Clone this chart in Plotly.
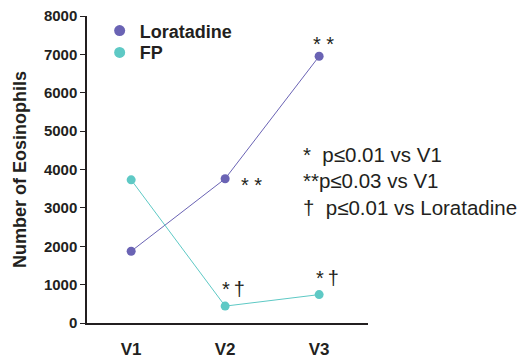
import plotly.graph_objects as go

visits = ["V1", "V2", "V3"]
loratadine = [1870, 3760, 6950]
fp = [3730, 440, 740]
y_ticks = [0, 1000, 2000, 3000, 4000, 5000, 6000, 7000, 8000]

lor_sig = ["", "* *", "* *"]
fp_sig = ["", "*\u2009\u2020", "*\u2009\u2020"]
notes = ["*  p\u22640.01 vs V1", "**p\u22640.03 vs V1", "\u2020  p\u22640.01 vs Loratadine"]

PURPLE = "#6a63b4"
TEAL = "#5ec9c5"
INK = "#231f20"
FONT = "Liberation Sans, Arial, sans-serif"

fig = go.Figure()
series = [("Loratadine", loratadine, PURPLE, "legend"), ("FP", fp, TEAL, "legend2")]
for name, vals, col, _ in series:
    fig.add_trace(go.Scatter(
        x=visits, y=vals, name=name, mode="lines+markers", showlegend=False,
        line=dict(color=col, width=1), marker=dict(color=col, size=9),
    ))
# dot-only legend entries, one legend box each so the rows sit close together
for name, vals, col, leg in series:
    fig.add_trace(go.Scatter(
        x=[None], y=[None], name=name, mode="markers", legend=leg,
        marker=dict(color=col, size=11),
    ))

annotations = []
sig_font = dict(family=FONT, size=20, color=INK)
for i, (v, s) in enumerate(zip(loratadine, lor_sig)):
    if not s:
        continue
    if i == 1:
        annotations.append(dict(x=visits[i], y=v, text=s, showarrow=False,
                                xshift=26, yshift=-6, font=sig_font))
    else:
        annotations.append(dict(x=visits[i], y=v, text=s, showarrow=False,
                                xshift=4, yshift=12, font=sig_font))
for i, (v, s) in enumerate(zip(fp, fp_sig)):
    if not s:
        continue
    annotations.append(dict(x=visits[i], y=v, text=s, showarrow=False,
                            xshift=8, yshift=17, font=sig_font))

for k, t in enumerate(notes):
    annotations.append(dict(xref="paper", yref="paper", x=0.763, y=0.550 - k * 0.0874,
                            text=t, showarrow=False, xanchor="left", yanchor="middle",
                            font=dict(family=FONT, size=20.5, color=INK)))

leg_common = dict(xanchor="left", yanchor="middle", bgcolor="rgba(0,0,0,0)",
                  font=dict(family=FONT, size=18, color=INK, weight="bold"),
                  itemwidth=30)

fig.update_layout(
    width=519, height=361,
    margin=dict(l=87, r=151, t=14, b=38),
    paper_bgcolor="white", plot_bgcolor="white",
    font=dict(family=FONT, color=INK),
    showlegend=True,
    legend=dict(x=0.045, y=(323 - 29) / 309, **leg_common),
    legend2=dict(x=0.045, y=(323 - 51) / 309, **leg_common),
    annotations=annotations,
    xaxis=dict(range=[-0.47, 2.52], showgrid=False, zeroline=False, automargin=False,
               showline=True, linecolor=INK, linewidth=1.5,
               ticks="", tickfont=dict(family=FONT, size=17, weight="bold", color=INK),
               ticklabelstandoff=10),
    yaxis=dict(range=[0, 8000], tickvals=y_ticks, showgrid=False, zeroline=False,
               automargin=False,
               showline=True, linecolor=INK, linewidth=1.5,
               ticks="outside", ticklen=5, tickcolor=INK,
               tickfont=dict(family=FONT, size=15, weight="bold", color=INK),
               title=dict(text="Number of Eosinophils", standoff=13,
                          font=dict(family=FONT, size=18, weight="bold", color=INK))),
)

fig.write_html("out.html")
